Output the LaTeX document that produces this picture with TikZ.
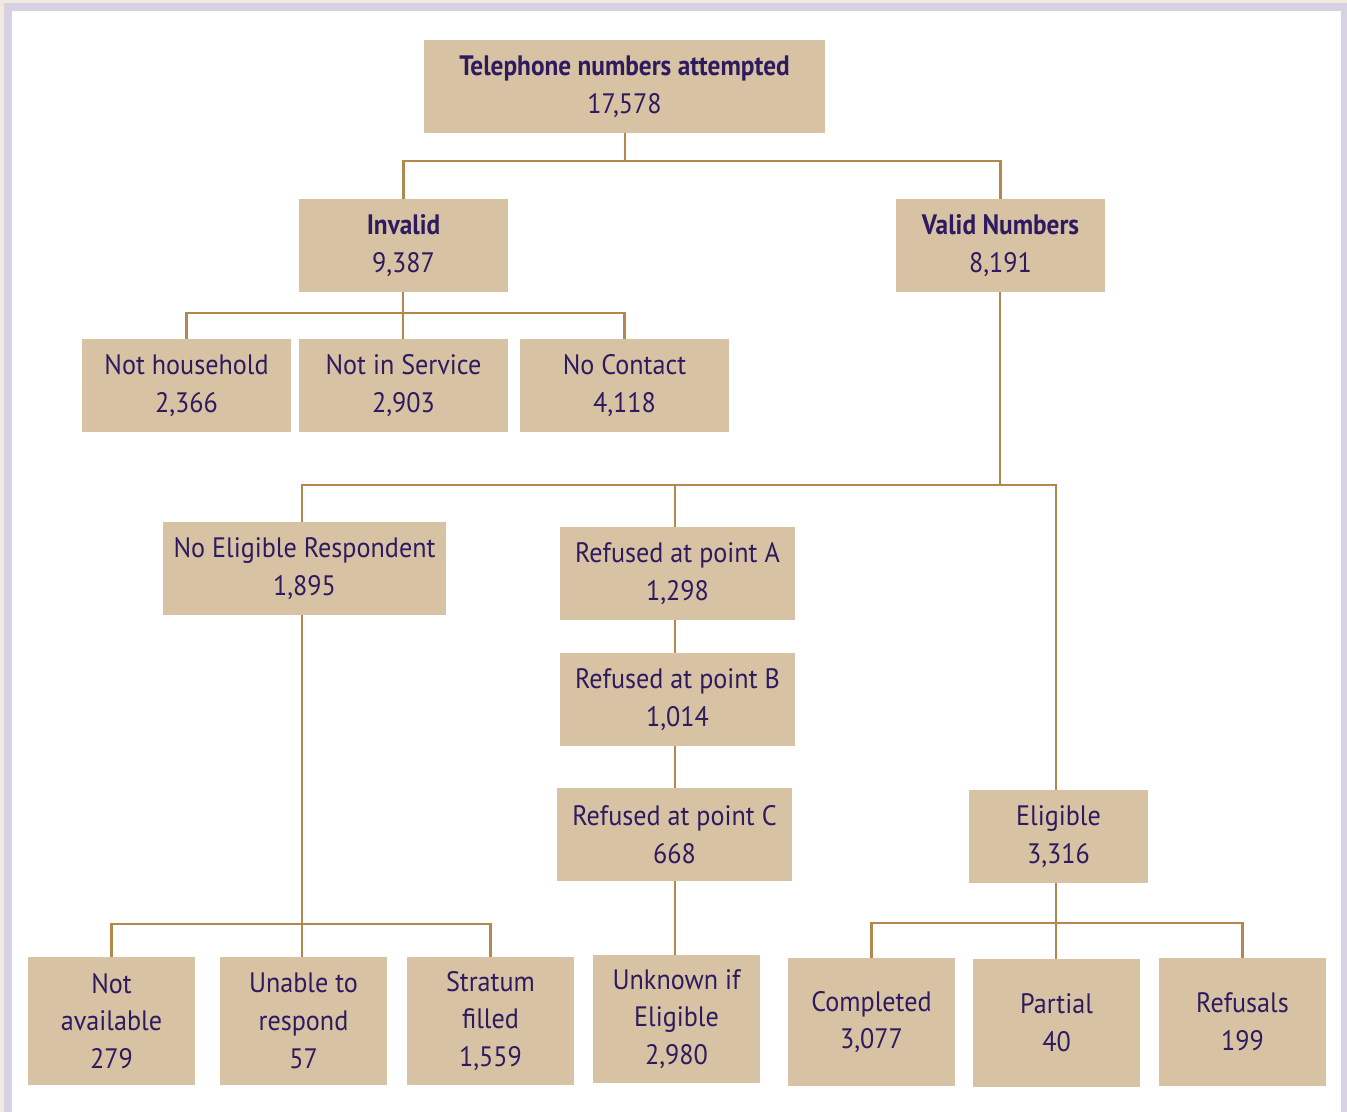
\documentclass[tikz,border=0pt]{standalone}
\usepackage{fontspec}
\setmainfont{PT Sans}[FakeStretch=0.93]
\newfontfamily\headfont[FakeStretch=0.9]{PT Sans}
\usetikzlibrary{positioning}
\definecolor{boxtan}{HTML}{D7C3A3}
\definecolor{ink}{HTML}{2E1B5F}
\definecolor{wire}{HTML}{B3884C}
\definecolor{framelav}{HTML}{D6D2E3}
\definecolor{framebg}{HTML}{F1E9DE}
\tikzset{
  box/.style={fill=boxtan,text=ink,align=center,inner sep=0pt,
    font=\fontsize{16}{21.5}\selectfont},
  boxsize/.style 2 args={minimum width=#1*0.02cm,minimum height=#2*0.02cm},
  link/.style={draw=wire,line width=1.3pt},
}
\newcommand{\hd}[1]{{\headfont\bfseries #1}}

\begin{document}
\begin{tikzpicture}[x=0.02cm,y=-0.02cm]

        % FRAME
        \fill[framebg] (0,0) rectangle (1347,1112);
        \fill[framelav] (4,3) rectangle (1347,1112);
        \fill[white] (12,11) rectangle (1341,1112);
        \useasboundingbox (0,0) rectangle (1347,1112);

        % TOP LEVELS
        \node[box,boxsize={401}{93}] (tel) at (624.5,86.5) {\hd{Telephone numbers attempted}\\17,578};
        \node[box,boxsize={209}{93}] (inv) at (403.5,245.5) {\hd{Invalid}\\9,387};
        \node[box,boxsize={209}{93}] (val) at (1000.5,245.5) {\hd{Valid Numbers}\\8,191};

        % INVALID
        \node[box,boxsize={209}{93}] (nhh) at (186.5,385.5) {Not household\\2,366};
        \node[box,boxsize={209}{93}] (nis) at (403.5,385.5) {Not in Service\\2,903};
        \node[box,boxsize={209}{93}] (ncon) at (624.5,385.5) {No Contact\\4,118};

        % VALID
        \node[box,boxsize={283}{93}] (ner) at (304.5,568.5) {No Eligible Respondent\\1,895};
        \node[box,boxsize={235}{93}] (refa) at (677.5,573.5) {Refused at point A\\1,298};
        \node[box,boxsize={235}{93}] (refb) at (677.5,699.5) {Refused at point B\\1,014};
        \node[box,boxsize={235}{93}] (refc) at (674.5,834.5) {Refused at point C\\668};
        \node[box,boxsize={179}{93}] (elig) at (1058.5,836.5) {Eligible\\3,316};

        % BOTTOM ROW
        \node[box,boxsize={167}{128}] (navail) at (111.5,1021) {Not\\available\\279};
        \node[box,boxsize={167}{128}] (unable) at (303.5,1021) {Unable to\\respond\\57};
        \node[box,boxsize={167}{128}] (strat) at (490.5,1021) {Stratum\\filled\\1,559};
        \node[box,boxsize={167}{128}] (unk) at (676.5,1019) {Unknown if\\Eligible\\2,980};
        \node[box,boxsize={167}{128}] (compl) at (871.5,1022) {Completed\\3,077};
        \node[box,boxsize={167}{128}] (part) at (1056.5,1023) {Partial\\40};
        \node[box,boxsize={167}{128}] (refus) at (1242.5,1022) {Refusals\\199};

        % JUNCTIONS
        \coordinate (jtel) at (625,161);
        \coordinate (jinv) at (403,313);
        \coordinate (jval) at (1000,485);
        \coordinate (jner) at (302,924);
        \coordinate (jref) at (675,0);
        \coordinate (jelig) at (1056,923);

        % LINES
        \draw[link] (jtel |- tel.south) -- (jtel);
        \draw[link] (inv.north) |- (jtel) -| (val.north);
        \draw[link] (jinv |- inv.south) -- (jinv);
        \draw[link] (nhh.north) |- (jinv) -| (ncon.north);
        \draw[link] (jinv) -- (jinv |- nis.north);
        \draw[link] (jval |- val.south) -- (jval);
        \draw[link] (jner |- ner.north) |- (jval) -| (jelig |- elig.north);
        \draw[link] (jref |- refa.north) -- (jref |- jval);
        \draw[link] (jref |- refa.south) -- (jref |- refb.north);
        \draw[link] (jref |- refb.south) -- (jref |- refc.north);
        \draw[link] (jref |- refc.south) -- (jref |- unk.north);
        \draw[link] (jner |- ner.south) -- (jner |- unable.north);
        \draw[link] (navail.north) |- (jner) -| (strat.north);
        \draw[link] (jelig |- elig.south) -- (jelig |- part.north);
        \draw[link] (compl.north) |- (jelig) -| (refus.north);

    \end{tikzpicture}
\end{document}
